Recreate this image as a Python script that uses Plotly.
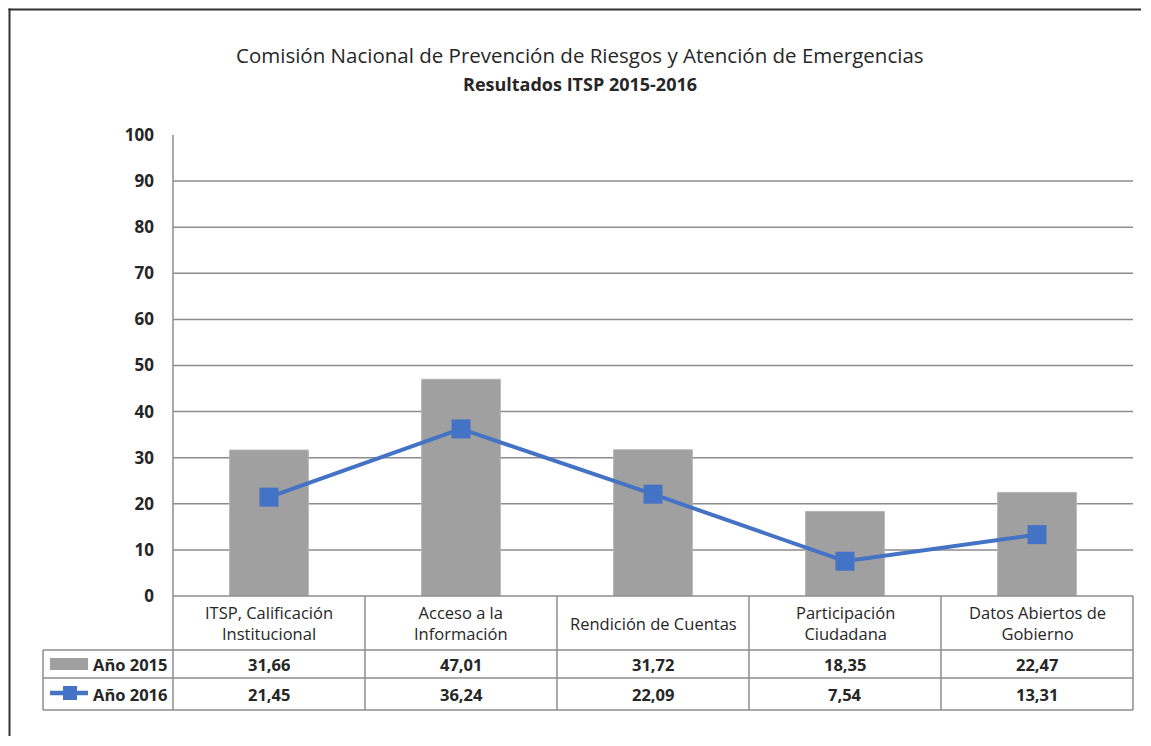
import plotly.graph_objects as go

categorias = ["ITSP, Calificación<br>Institucional", "Acceso a la<br>Información",
              "Rendición de Cuentas", "Participación<br>Ciudadana", "Datos Abiertos de<br>Gobierno"]
anio_2015 = [31.66, 47.01, 31.72, 18.35, 22.47]
anio_2016 = [21.45, 36.24, 22.09, 7.54, 13.31]
series = ["Año 2015", "Año 2016"]
y_ticks = [0, 10, 20, 30, 40, 50, 60, 70, 80, 90, 100]

FONT = "Open Sans"
TXT = "#262626"
BORDE = "#8c8c8c"
AZUL = "#4472C4"
GRIS = "#a0a0a0"

# el navegador deja 8px de margen en el body
OFF = 8
W, H = 1151 - 2 * OFF, 746 - 2 * OFF
L, R, T, B = 173 - OFF, W - (1133 - OFF), 135 - OFF, H - (596 - OFF)
pw, ph = W - L - R, H - T - B


def px_x(s):
    return (s - OFF - L) / pw


def px_y(s):
    return (H - B - (s - OFF)) / ph


def fmt(v):
    return f"{v:.2f}".replace(".", ",")


idx = list(range(len(categorias)))

fig = go.Figure()
fig.add_trace(go.Bar(x=idx, y=anio_2015, name=series[0],
                     marker=dict(color=GRIS, line=dict(color="#b4b4b4", width=1)),
                     hoverinfo="skip"))
fig.add_trace(go.Scatter(x=idx, y=anio_2016, name=series[1], mode="lines+markers",
                         line=dict(color=AZUL, width=4),
                         marker=dict(symbol="square", size=19, color=AZUL),
                         hoverinfo="skip"))

shapes = []
# lineas de cuadricula (sin la de 100)
for t in y_ticks[1:-1]:
    shapes.append(dict(type="line", xref="paper", yref="y", x0=0, x1=1, y0=t, y1=t,
                       line=dict(color="#8c8c8c", width=1.5), layer="below"))
# eje y
shapes.append(dict(type="line", xref="paper", yref="y", x0=0, x1=0, y0=0, y1=100,
                   line=dict(color="#8c8c8c", width=1.5)))

# tabla de datos
y_top = 0
y_h = px_y(650)
y_r1 = px_y(678)
y_r2 = px_y(710)
x_left = px_x(43)
lc = dict(color=BORDE, width=1.5)
shapes.append(dict(type="line", xref="paper", yref="paper", x0=0, x1=1, y0=y_top, y1=y_top, line=lc))
for yy in (y_h, y_r1, y_r2):
    shapes.append(dict(type="line", xref="paper", yref="paper", x0=x_left, x1=1, y0=yy, y1=yy, line=lc))
shapes.append(dict(type="line", xref="paper", yref="paper", x0=x_left, x1=x_left, y0=y_h, y1=y_r2, line=lc))
n = len(categorias)
for i in range(n + 1):
    shapes.append(dict(type="line", xref="paper", yref="paper", x0=i / n, x1=i / n,
                       y0=y_top, y1=y_r2, line=lc))

# simbolos de leyenda
shapes.append(dict(type="rect", xref="paper", yref="paper", x0=px_x(50), x1=px_x(88),
                   y0=px_y(670), y1=px_y(658), fillcolor=GRIS, line=dict(width=0)))
shapes.append(dict(type="line", xref="paper", yref="paper", x0=px_x(50), x1=px_x(88),
                   y0=px_y(693), y1=px_y(693), line=dict(color=AZUL, width=4.5)))
shapes.append(dict(type="rect", xref="paper", yref="paper", x0=px_x(63), x1=px_x(77),
                   y0=px_y(700), y1=px_y(686), fillcolor=AZUL, line=dict(width=0)))

# borde exterior: franjas rellenas arriba e izquierda
x_fin = px_x(OFF + W - 2)
y_fin = px_y(OFF + H - 2)
shapes.append(dict(type="rect", xref="paper", yref="paper", x0=px_x(8.5), x1=x_fin,
                   y0=px_y(10.5), y1=px_y(8.5), fillcolor="#333333", line=dict(width=0)))
shapes.append(dict(type="rect", xref="paper", yref="paper", x0=px_x(8.5), x1=px_x(10.5),
                   y0=y_fin, y1=px_y(8.5), fillcolor="#333333", line=dict(width=0)))

ann = []
ann.append(dict(text="Comisión Nacional de Prevención de Riesgos y Atención de Emergencias",
                xref="paper", yref="paper", x=px_x(580), y=px_y(55), showarrow=False,
                xanchor="center", yanchor="middle", font=dict(size=20.5, color=TXT)))
ann.append(dict(text="<b>Resultados ITSP 2015-2016</b>", xref="paper", yref="paper",
                x=px_x(580), y=px_y(84), showarrow=False, xanchor="center", yanchor="middle",
                font=dict(size=18, color=TXT)))

for i, c in enumerate(categorias):
    ann.append(dict(text=c, xref="x", yref="paper", x=i, y=(y_top + y_h) / 2,
                    xanchor="center", yanchor="middle", showarrow=False,
                    font=dict(size=16.5, color=TXT)))
    ann.append(dict(text=f"<b>{fmt(anio_2015[i])}</b>", xref="x", yref="paper", x=i,
                    y=(y_h + y_r1) / 2, xanchor="center", yanchor="middle", showarrow=False,
                    font=dict(size=16.5, color=TXT)))
    ann.append(dict(text=f"<b>{fmt(anio_2016[i])}</b>", xref="x", yref="paper", x=i,
                    y=(y_r1 + y_r2) / 2, xanchor="center", yanchor="middle", showarrow=False,
                    font=dict(size=16.5, color=TXT)))

for s, yy in zip(series, ((y_h + y_r1) / 2, (y_r1 + y_r2) / 2)):
    ann.append(dict(text=f"<b>{s}</b>", xref="paper", yref="paper", x=px_x(91), y=yy,
                    xanchor="left", yanchor="middle", showarrow=False,
                    font=dict(size=16.5, color=TXT)))

fig.update_layout(
    width=W, height=H,
    margin=dict(l=L, r=R, t=T, b=B, autoexpand=False),
    paper_bgcolor="white", plot_bgcolor="white",
    font=dict(family=FONT, color=TXT),
    showlegend=False,
    bargap=0.59,
    shapes=shapes,
    annotations=ann,
    xaxis=dict(range=[-0.5, n - 0.5], showticklabels=False, showgrid=False,
               zeroline=False, showline=False),
    yaxis=dict(range=[0, 100], tickvals=y_ticks,
               ticktext=[f"<b>{t}</b>" for t in y_ticks],
               showgrid=False, zeroline=False, showline=False,
               ticklabelstandoff=18, tickfont=dict(size=17, color=TXT)),
)

fig.write_html("out.html")
